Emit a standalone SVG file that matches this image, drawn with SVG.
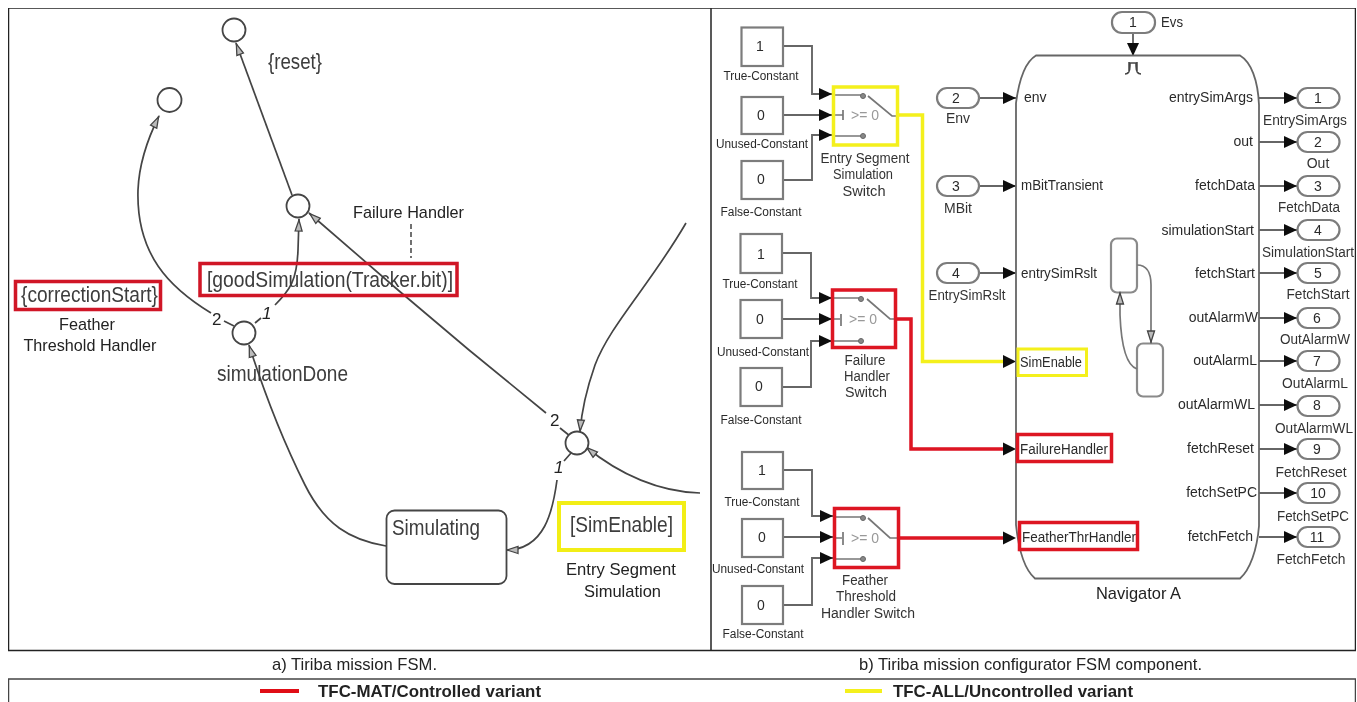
<svg xmlns="http://www.w3.org/2000/svg" width="1357" height="702" viewBox="0 0 1357 702">
<style>
text{font-family:"Liberation Sans",Arial,sans-serif;fill:#2a2a2a}
.l{font-size:22px;fill:#3c3c3c}
.c{font-size:17px;fill:#222}
.s{font-size:12.500px}
.p{font-size:14px;text-anchor:middle;fill:#333}
.n{font-size:14px}
.m{text-anchor:middle}
.e{text-anchor:end}
.cap{font-size:17px;fill:#222}
.b{font-size:17px;font-weight:bold;fill:#222}
.st{fill:#fff;stroke:#444;stroke-width:1.800}
.fsm{fill:none;stroke:#444;stroke-width:1.700}
.blk{fill:#fff;stroke:#7c7c7c;stroke-width:2.200}
.prt{fill:#fff;stroke:#7c7c7c;stroke-width:2.200}
.w{fill:none;stroke:#666;stroke-width:1.900}
.hr{fill:none;stroke:#dd1320;stroke-width:3.500}
.hy{fill:none;stroke:#f4f01a;stroke-width:3.500}
.sw{fill:none;stroke:#777;stroke-width:1.700}
.dot{fill:#888;stroke:#666;stroke-width:1}
</style>
<defs>
<marker id="fa" markerUnits="userSpaceOnUse" markerWidth="14" markerHeight="14" refX="13" refY="7" orient="auto"><path d="M0,1 L13,7 L0,13 Z" fill="#111"/></marker>
<marker id="oa" markerUnits="userSpaceOnUse" markerWidth="14" markerHeight="12" refX="13" refY="6" orient="auto"><path d="M1,2.500 L12,6 L1,9.500 Z" fill="#bbb" stroke="#444" stroke-width="1.300"/></marker>
<filter id="soft" x="0" y="0" width="100%" height="100%"><feGaussianBlur stdDeviation="0.45"/></filter>
</defs>
<rect width="1357" height="702" fill="#fff"/>
<g filter="url(#soft)">
<g id="frames" fill="none" stroke="#222" stroke-width="1.500">
<rect x="8.500" y="8" width="1347" height="642.500"/>
<path d="M711,8V650.500"/>
<path d="M8.500,702V679H1355.500V702" stroke="#444"/>
</g>

<g id="connectors">
<g id="fsm-edges">
<path class="fsm" d="M292,195L236,43" marker-end="url(#oa)"/>
<path class="fsm" d="M234,326L224,321M211,313C170,288 136,255 138,190C139,165 147,140 159,116" marker-end="url(#oa)"/>
<path class="fsm" d="M255,323L261,318M275,305C290,290 297,280 298,250L299,219" marker-end="url(#oa)"/>
<path class="fsm" d="M570,436L560,428M546,413L469,350L398,290L309,213" marker-end="url(#oa)"/>
<path class="fsm" d="M686,223C650,285 610,325 595,365C588,385 582,405 580,432" marker-end="url(#oa)"/>
<path class="fsm" d="M700,493C660,492 620,475 586,447" marker-end="url(#oa)"/>
<path class="fsm" d="M386,546C350,540 325,525 305,485C285,445 265,395 249,345" marker-end="url(#oa)"/>
<path class="fsm" d="M571,453L564,461M557,480C553,510 545,550 506,550" marker-end="url(#oa)"/>
<path d="M411,224V258" fill="none" stroke="#222" stroke-width="1.300" stroke-dasharray="5 3"/>
</g>
<g id="switch1-wires">
<path class="w" d="M783,46H812V94H832" marker-end="url(#fa)"/>
<path class="w" d="M783,115H832" marker-end="url(#fa)"/>
<path class="w" d="M783,180H812V135H832" marker-end="url(#fa)"/>
</g>
<g id="switch2-wires">
<path class="w" d="M782,253H811V298H832" marker-end="url(#fa)"/>
<path class="w" d="M782,319H832" marker-end="url(#fa)"/>
<path class="w" d="M782,387H811V341H832" marker-end="url(#fa)"/>
</g>
<g id="switch3-wires">
<path class="w" d="M783,470H812V516H833" marker-end="url(#fa)"/>
<path class="w" d="M783,537H833" marker-end="url(#fa)"/>
<path class="w" d="M783,605H812V558H833" marker-end="url(#fa)"/>
</g>
<path class="hy" d="M897,115H922.500V361.500H1004"/>
<path d="M1003,355L1016,361.500L1003,368Z" fill="#111"/>
<path class="hr" d="M896,319H911V449H1004"/>
<path d="M1003,442.500L1016,449L1003,455.500Z" fill="#111"/>
<path class="hr" d="M899,538H1004"/>
<path d="M1003,531.500L1016,538L1003,544.500Z" fill="#111"/>
<g id="port-wires">
<path class="w" d="M979,98H1016" marker-end="url(#fa)"/>
<path class="w" d="M979,186H1016" marker-end="url(#fa)"/>
<path class="w" d="M979,273H1016" marker-end="url(#fa)"/>
<path class="w" d="M1133,33V56" marker-end="url(#fa)"/>
<path class="w" d="M1259,98H1297" marker-end="url(#fa)"/>
<path class="w" d="M1259,142H1297" marker-end="url(#fa)"/>
<path class="w" d="M1259,186H1297" marker-end="url(#fa)"/>
<path class="w" d="M1259,230H1297" marker-end="url(#fa)"/>
<path class="w" d="M1259,273H1297" marker-end="url(#fa)"/>
<path class="w" d="M1259,318H1297" marker-end="url(#fa)"/>
<path class="w" d="M1259,361H1297" marker-end="url(#fa)"/>
<path class="w" d="M1259,405H1297" marker-end="url(#fa)"/>
<path class="w" d="M1259,449H1297" marker-end="url(#fa)"/>
<path class="w" d="M1259,493H1297" marker-end="url(#fa)"/>
<path class="w" d="M1259,537H1297" marker-end="url(#fa)"/>
</g>
</g>

<g id="fsm-states">
<circle id="junction-reset" class="st" cx="234" cy="30" r="11.500"/>
<circle id="junction-correction" class="st" cx="169.500" cy="100" r="12"/>
<circle id="junction-failure" class="st" cx="298" cy="206" r="11.500"/>
<circle id="junction-done" class="st" cx="244" cy="333" r="11.500"/>
<circle id="junction-entry" class="st" cx="577" cy="443" r="11.500"/>
<g id="state-simulating">
<rect x="386.500" y="510.500" width="120" height="73.500" rx="8" fill="#fff" stroke="#444" stroke-width="1.800"/>
<text class="l" x="392" y="535" textLength="88" lengthAdjust="spacingAndGlyphs">Simulating</text>
</g>
</g>

<g id="fsm-labels">
<text class="l" x="268" y="69" textLength="54" lengthAdjust="spacingAndGlyphs">{reset}</text>
<text class="c" x="353" y="218" textLength="111" lengthAdjust="spacingAndGlyphs">Failure Handler</text>
<g id="label-good-simulation">
<rect x="200" y="263.500" width="257" height="32" fill="none" stroke="#d01525" stroke-width="3.500"/>
<text class="l" x="207" y="287" textLength="246" lengthAdjust="spacingAndGlyphs">[goodSimulation(Tracker.bit)]</text>
</g>
<g id="label-correction-start">
<rect x="15.500" y="281.500" width="145" height="28" fill="none" stroke="#d01525" stroke-width="3.500"/>
<text class="l" x="21" y="302" textLength="137" lengthAdjust="spacingAndGlyphs">{correctionStart}</text>
</g>
<text class="c m" x="87" y="330" textLength="56" lengthAdjust="spacingAndGlyphs">Feather</text>
<text class="c m" x="90" y="351" textLength="133" lengthAdjust="spacingAndGlyphs">Threshold Handler</text>
<text class="l" x="217" y="381" textLength="131" lengthAdjust="spacingAndGlyphs">simulationDone</text>
<text class="c" x="212" y="325">2</text>
<text class="c" x="262" y="319" font-style="italic">1</text>
<text class="c" x="550" y="426">2</text>
<text class="c" x="554" y="473" font-style="italic">1</text>
<g id="label-sim-enable">
<rect x="559" y="503" width="125" height="47" fill="none" stroke="#f2ee14" stroke-width="4"/>
<text class="l" x="570" y="532" textLength="103" lengthAdjust="spacingAndGlyphs">[SimEnable]</text>
</g>
<text class="c" x="566" y="575" textLength="110" lengthAdjust="spacingAndGlyphs">Entry Segment</text>
<text class="c" x="584" y="597" textLength="77" lengthAdjust="spacingAndGlyphs">Simulation</text>
</g>

<g id="switch-group-1">
<g id="const-true-1"><rect class="blk" x="741.500" y="27.500" width="41.500" height="38.500"/><text class="n m" x="760" y="51">1</text><text class="s m" x="761" y="80" textLength="75" lengthAdjust="spacingAndGlyphs">True-Constant</text></g>
<g id="const-unused-1"><rect class="blk" x="741.500" y="97" width="41.500" height="37"/><text class="n m" x="761" y="120">0</text><text class="s m" x="762" y="148" textLength="92" lengthAdjust="spacingAndGlyphs">Unused-Constant</text></g>
<g id="const-false-1"><rect class="blk" x="741.500" y="161" width="41.500" height="38"/><text class="n m" x="761" y="184">0</text><text class="s m" x="761" y="216" textLength="81" lengthAdjust="spacingAndGlyphs">False-Constant</text></g>
<g id="switch-1">
<path class="sw" d="M835,95H861M835,136H861M835,115H843M843,110V120M868,96L892,116H897"/>
<circle class="dot" cx="863" cy="96" r="2.500"/><circle class="dot" cx="863" cy="136" r="2.500"/>
<text class="n" x="851" y="120" style="fill:#999">&gt;= 0</text>
<rect x="833.500" y="87" width="64" height="58" fill="none" stroke="#f4f01a" stroke-width="3.500"/>
<text class="p" x="865" y="163" textLength="89" lengthAdjust="spacingAndGlyphs">Entry Segment</text>
<text class="p" x="863" y="179" textLength="60" lengthAdjust="spacingAndGlyphs">Simulation</text>
<text class="p" x="864" y="196" textLength="43" lengthAdjust="spacingAndGlyphs">Switch</text>
</g>
</g>

<g id="switch-group-2">
<g id="const-true-2"><rect class="blk" x="740.500" y="234" width="41.500" height="39"/><text class="n m" x="761" y="259">1</text><text class="s m" x="760" y="288" textLength="75" lengthAdjust="spacingAndGlyphs">True-Constant</text></g>
<g id="const-unused-2"><rect class="blk" x="740.500" y="300" width="41.500" height="38"/><text class="n m" x="760" y="324">0</text><text class="s m" x="763" y="356" textLength="92" lengthAdjust="spacingAndGlyphs">Unused-Constant</text></g>
<g id="const-false-2"><rect class="blk" x="740.500" y="368" width="41.500" height="38"/><text class="n m" x="759" y="391">0</text><text class="s m" x="761" y="424" textLength="81" lengthAdjust="spacingAndGlyphs">False-Constant</text></g>
<g id="switch-2">
<path class="sw" d="M834,298H860M834,341H860M834,319H840M841,314V326M867,299L890,319H896"/>
<circle class="dot" cx="861" cy="299" r="2.500"/><circle class="dot" cx="861" cy="341" r="2.500"/>
<text class="n" x="849" y="324" style="fill:#999">&gt;= 0</text>
<rect x="832.500" y="290" width="63" height="57.500" fill="none" stroke="#dd1320" stroke-width="3.500"/>
<text class="p" x="865" y="365" textLength="41" lengthAdjust="spacingAndGlyphs">Failure</text>
<text class="p" x="867" y="381" textLength="46" lengthAdjust="spacingAndGlyphs">Handler</text>
<text class="p" x="866" y="397" textLength="42" lengthAdjust="spacingAndGlyphs">Switch</text>
</g>
</g>

<g id="switch-group-3">
<g id="const-true-3"><rect class="blk" x="742" y="452" width="41" height="37"/><text class="n m" x="762" y="475">1</text><text class="s m" x="762" y="506" textLength="75" lengthAdjust="spacingAndGlyphs">True-Constant</text></g>
<g id="const-unused-3"><rect class="blk" x="742" y="519" width="41" height="38"/><text class="n m" x="762" y="542">0</text><text class="s m" x="758" y="573" textLength="92" lengthAdjust="spacingAndGlyphs">Unused-Constant</text></g>
<g id="const-false-3"><rect class="blk" x="742" y="586" width="41" height="38"/><text class="n m" x="761" y="610">0</text><text class="s m" x="763" y="638" textLength="81" lengthAdjust="spacingAndGlyphs">False-Constant</text></g>
<g id="switch-3">
<path class="sw" d="M836,517H862M836,559H862M836,538H842M843,532V545M868,518L890,538H899"/>
<circle class="dot" cx="863" cy="518" r="2.500"/><circle class="dot" cx="863" cy="559" r="2.500"/>
<text class="n" x="851" y="543" style="fill:#999">&gt;= 0</text>
<rect x="834.500" y="508.500" width="64" height="59" fill="none" stroke="#dd1320" stroke-width="3.500"/>
<text class="p" x="865" y="585" textLength="46" lengthAdjust="spacingAndGlyphs">Feather</text>
<text class="p" x="866" y="601" textLength="60" lengthAdjust="spacingAndGlyphs">Threshold</text>
<text class="p" x="868" y="618" textLength="94" lengthAdjust="spacingAndGlyphs">Handler Switch</text>
</g>
</g>

<g id="navigator-a">
<path d="M1016,525V103C1019,80 1025,62 1036,55.500H1240C1251,62 1258,80 1259,105V526C1257,550 1250,570 1240,578.500H1035C1025,570 1019,553 1016,525Z" fill="#fff" stroke="#666" stroke-width="1.800"/>
<path d="M1125,74C1129,74 1130,70 1130,66V63H1136V66C1136,70 1137,74 1141,74M1129,62V72M1137,62V72" fill="none" stroke="#444" stroke-width="1.500"/>
<g id="mini-chart">
<rect x="1111" y="238.500" width="26" height="54" rx="6" fill="#fff" stroke="#8a8a8a" stroke-width="2.200"/>
<rect x="1137" y="343.500" width="26" height="53" rx="6" fill="#fff" stroke="#8a8a8a" stroke-width="2.200"/>
<path d="M1137,265C1147,265 1151,272 1151,285V343" fill="none" stroke="#777" stroke-width="1.700" marker-end="url(#oa)"/>
<path d="M1137,369C1125,365 1121,340 1120,315V292" fill="none" stroke="#777" stroke-width="1.700" marker-end="url(#oa)"/>
</g>
<text class="n" x="1024" y="102">env</text>
<text class="n" x="1021" y="190" textLength="82" lengthAdjust="spacingAndGlyphs">mBitTransient</text>
<text class="n" x="1021" y="278" textLength="76" lengthAdjust="spacingAndGlyphs">entrySimRslt</text>
<g id="input-simenable">
<rect x="1018" y="349" width="68.500" height="26.500" fill="none" stroke="#f4f01a" stroke-width="3"/>
<text class="n" x="1020" y="367" textLength="62" lengthAdjust="spacingAndGlyphs">SimEnable</text>
</g>
<g id="input-failure">
<rect x="1017.500" y="434.500" width="94" height="27" fill="none" stroke="#dd1320" stroke-width="3.500"/>
<text class="n" x="1020" y="454" textLength="88" lengthAdjust="spacingAndGlyphs">FailureHandler</text>
</g>
<g id="input-feather">
<rect x="1019.500" y="522.500" width="118" height="27" fill="none" stroke="#dd1320" stroke-width="3.500"/>
<text class="n" x="1022" y="542" textLength="114" lengthAdjust="spacingAndGlyphs">FeatherThrHandler</text>
</g>
<text class="n e" x="1253" y="102">entrySimArgs</text>
<text class="n e" x="1253" y="146">out</text>
<text class="n e" x="1255" y="190">fetchData</text>
<text class="n e" x="1254" y="235">simulationStart</text>
<text class="n e" x="1255" y="278">fetchStart</text>
<text class="n e" x="1258" y="322">outAlarmW</text>
<text class="n e" x="1257" y="365">outAlarmL</text>
<text class="n e" x="1255" y="409">outAlarmWL</text>
<text class="n e" x="1254" y="453">fetchReset</text>
<text class="n e" x="1257" y="497">fetchSetPC</text>
<text class="n e" x="1253" y="541">fetchFetch</text>
<text class="c" x="1096" y="599" textLength="85" lengthAdjust="spacingAndGlyphs">Navigator A</text>
</g>

<g id="input-ports">
<g id="port-evs"><rect class="prt" x="1112" y="12" width="43" height="21" rx="10"/><text class="n m" x="1133" y="27">1</text><text class="n" x="1161" y="27" textLength="22" lengthAdjust="spacingAndGlyphs">Evs</text></g>
<g id="port-env"><rect class="prt" x="937" y="88" width="42" height="20" rx="10"/><text class="n m" x="956" y="103">2</text><text class="p" x="958" y="123">Env</text></g>
<g id="port-mbit"><rect class="prt" x="937" y="176" width="42" height="20" rx="10"/><text class="n m" x="956" y="191">3</text><text class="p" x="958" y="213">MBit</text></g>
<g id="port-entrysimrslt"><rect class="prt" x="937" y="263" width="42" height="20" rx="10"/><text class="n m" x="956" y="278">4</text><text class="p" x="967" y="300" textLength="77" lengthAdjust="spacingAndGlyphs">EntrySimRslt</text></g>
</g>

<g id="output-ports">
<g id="out-1"><rect class="prt" x="1297.500" y="88" width="42" height="20" rx="10"/><text class="n m" x="1318" y="103">1</text><text class="p" x="1305" y="125" textLength="84" lengthAdjust="spacingAndGlyphs">EntrySimArgs</text></g>
<g id="out-2"><rect class="prt" x="1297.500" y="132" width="42" height="20" rx="10"/><text class="n m" x="1318" y="147">2</text><text class="p" x="1318" y="168">Out</text></g>
<g id="out-3"><rect class="prt" x="1297.500" y="176" width="42" height="20" rx="10"/><text class="n m" x="1318" y="191">3</text><text class="p" x="1309" y="212" textLength="62" lengthAdjust="spacingAndGlyphs">FetchData</text></g>
<g id="out-4"><rect class="prt" x="1297.500" y="220" width="42" height="20" rx="10"/><text class="n m" x="1318" y="235">4</text><text class="p" x="1308" y="257" textLength="92" lengthAdjust="spacingAndGlyphs">SimulationStart</text></g>
<g id="out-5"><rect class="prt" x="1297.500" y="263" width="42" height="20" rx="10"/><text class="n m" x="1318" y="278">5</text><text class="p" x="1318" y="299" textLength="63" lengthAdjust="spacingAndGlyphs">FetchStart</text></g>
<g id="out-6"><rect class="prt" x="1297.500" y="308" width="42" height="20" rx="10"/><text class="n m" x="1317" y="323">6</text><text class="p" x="1315" y="344" textLength="70" lengthAdjust="spacingAndGlyphs">OutAlarmW</text></g>
<g id="out-7"><rect class="prt" x="1297.500" y="351" width="42" height="20" rx="10"/><text class="n m" x="1317" y="366">7</text><text class="p" x="1315" y="388" textLength="66" lengthAdjust="spacingAndGlyphs">OutAlarmL</text></g>
<g id="out-8"><rect class="prt" x="1297.500" y="396" width="42" height="20" rx="10"/><text class="n m" x="1317" y="410">8</text><text class="p" x="1314" y="433" textLength="78" lengthAdjust="spacingAndGlyphs">OutAlarmWL</text></g>
<g id="out-9"><rect class="prt" x="1297.500" y="439" width="42" height="20" rx="10"/><text class="n m" x="1317" y="454">9</text><text class="p" x="1311" y="477" textLength="71" lengthAdjust="spacingAndGlyphs">FetchReset</text></g>
<g id="out-10"><rect class="prt" x="1297.500" y="483" width="42" height="20" rx="10"/><text class="n m" x="1318" y="498">10</text><text class="p" x="1313" y="521" textLength="72" lengthAdjust="spacingAndGlyphs">FetchSetPC</text></g>
<g id="out-11"><rect class="prt" x="1297.500" y="527" width="42" height="20" rx="10"/><text class="n m" x="1317" y="542">11</text><text class="p" x="1311" y="564" textLength="69" lengthAdjust="spacingAndGlyphs">FetchFetch</text></g>
</g>

<g id="captions">
<text class="cap" x="272" y="670" textLength="165" lengthAdjust="spacingAndGlyphs">a) Tiriba mission FSM.</text>
<text class="cap" x="859" y="670" textLength="343" lengthAdjust="spacingAndGlyphs">b) Tiriba mission configurator FSM component.</text>
</g>
<g id="legend">
<path d="M260,691H299" stroke="#e01018" stroke-width="4" fill="none"/>
<text class="b" x="318" y="697" textLength="223" lengthAdjust="spacingAndGlyphs">TFC-MAT/Controlled variant</text>
<path d="M845,691H882" stroke="#f4f01a" stroke-width="4" fill="none"/>
<text class="b" x="893" y="697" textLength="240" lengthAdjust="spacingAndGlyphs">TFC-ALL/Uncontrolled variant</text>
</g>
</g>
</svg>
